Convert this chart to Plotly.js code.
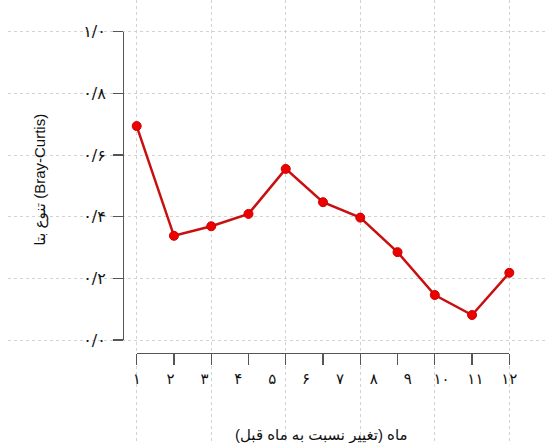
<!DOCTYPE html>
<html>
<head>
<meta charset="utf-8">
<script src="https://cdn.plot.ly/plotly-3.0.1.min.js"></script>
<style>html,body{margin:0;padding:0;background:#fff;}#chart{width:546px;height:443px;}</style>
</head>
<body>
<div id="chart"></div>
<script>
// Data
const months = [1, 2, 3, 4, 5, 6, 7, 8, 9, 10, 11];
const brayCurtis = [0.694, 0.338, 0.369, 0.409, 0.555, 0.447, 0.397, 0.285, 0.146, 0.081, 0.218];
const xTickLabels = ['۱','۲','۳','۴','۵','۶','۷','۸','۹','۱۰','۱۱','۱۲'];
const yTickVals = [0, 0.2, 0.4, 0.6, 0.8, 1.0];
const yTickLabels = ['۰/۰','۰/۲','۰/۴','۰/۶','۰/۸','۱/۰'];
const gridXVals = [1, 3, 5, 7, 9, 11];
const yTitle = 'تنوع بتا (Bray-Curtis)';
const xTitle = 'ماه (تغییر نسبت به ماه قبل)';

const labelPos = xTickLabels.map((_, i) => i);

const traces = [
  { x: gridXVals, y: yTickVals, xaxis: 'x', yaxis: 'y', type: 'scatter', mode: 'markers',
    marker: { opacity: 0 }, hoverinfo: 'skip', showlegend: false },
  { x: labelPos, y: labelPos.map(() => 0), xaxis: 'x3', yaxis: 'y2', type: 'scatter', mode: 'markers',
    marker: { opacity: 0 }, hoverinfo: 'skip', showlegend: false },
  { x: months, y: brayCurtis, xaxis: 'x2', yaxis: 'y2', type: 'scatter', mode: 'lines+markers',
    line: { color: '#c81010', width: 2.5 },
    marker: { color: '#ee0000', size: 9, line: { color: '#cc0000', width: 1 } },
    cliponaxis: false, hoverinfo: 'skip', showlegend: false }
];

const gridColor = '#d2d2d2';
const titleFont = { size: 15, family: 'Liberation Sans, DejaVu Sans, sans-serif', color: '#111' };
const layout = {
  width: 546, height: 443,
  margin: { l: 8, r: 0, t: 0, b: 0 },
  paper_bgcolor: '#ffffff', plot_bgcolor: 'rgba(0,0,0,0)',
  font: { family: 'Liberation Sans, DejaVu Sans, sans-serif', color: '#111' },
  showlegend: false,
  xaxis: { domain: [0, 1], range: [-2.454, 11.985], tickvals: gridXVals, showticklabels: false,
    showgrid: true, gridcolor: gridColor, griddash: 'dot', gridwidth: 1, zeroline: false, showline: false, ticks: '' },
  yaxis: { domain: [0, 1], range: [-0.334, 1.1028], tickvals: yTickVals, showticklabels: false,
    showgrid: true, gridcolor: gridColor, griddash: 'dot', gridwidth: 1, zeroline: false, showline: false, ticks: '' },
  xaxis2: { domain: [0.2392, 0.9318], range: [1, 11], anchor: 'free', position: 0.2038,
    tickvals: months, showticklabels: false, ticks: 'outside', ticklen: 11, tickwidth: 1.3, tickcolor: '#555',
    showline: true, linecolor: '#555', linewidth: 1.3, showgrid: false, zeroline: false },
  xaxis3: { domain: [0.2392, 0.9318], range: [0, 11], anchor: 'free', position: 0.2038,
    tickvals: labelPos, ticktext: xTickLabels, ticks: 'outside', ticklen: 12, tickcolor: 'rgba(0,0,0,0)',
    tickfont: { size: 15, family: 'DejaVu Sans, sans-serif', color: '#111' },
    showline: false, showgrid: false, zeroline: false },
  yaxis2: { domain: [0.2325, 0.9284], range: [0, 1], anchor: 'free', position: 0.2138,
    tickvals: yTickVals, ticktext: yTickLabels, ticks: 'outside', ticklen: 10, tickwidth: 1.3, tickcolor: '#555',
    ticklabelstandoff: 4,
    tickfont: { size: 16, family: 'DejaVu Sans, sans-serif', color: '#111' },
    showline: true, linecolor: '#555', linewidth: 1.3, showgrid: false, zeroline: false },
  annotations: [
    { text: yTitle, xref: 'paper', yref: 'paper', x: 0.0595, y: 0.594, textangle: -90,
      showarrow: false, xanchor: 'center', yanchor: 'middle', font: titleFont },
    { text: xTitle, xref: 'paper', yref: 'paper', x: 0.5836, y: 0.018,
      showarrow: false, xanchor: 'center', yanchor: 'middle', font: titleFont }
  ]
};

Plotly.newPlot('chart', traces, layout, { displayModeBar: false, staticPlot: true });
</script>
</body>
</html>
